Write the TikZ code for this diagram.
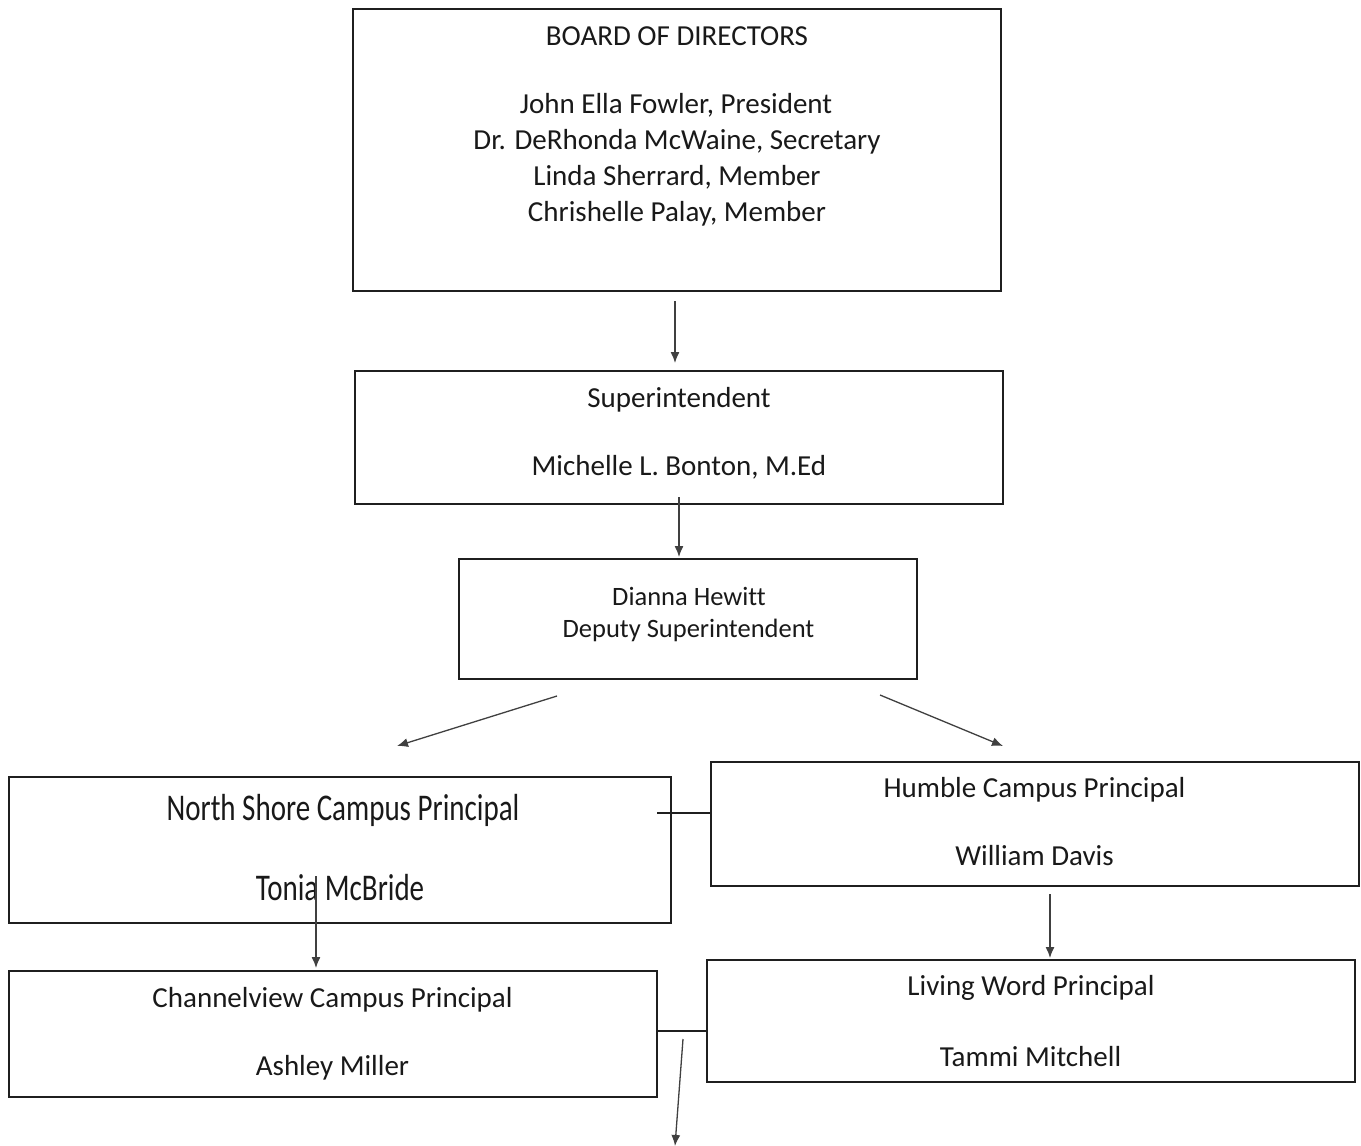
\documentclass[tikz,border=0pt]{standalone}
\usepackage{fontspec}
\setmainfont{Carlito}[Ligatures=NoCommon]
\usetikzlibrary{arrows.meta}
\begin{document}
\begin{tikzpicture}[x=1pt,y=-1pt,
  box/.style={draw=black!88,line width=1.6pt,rectangle,inner sep=0pt},
  txt/.style={anchor=base,inner sep=0pt,text=black!90,font=\fontsize{29}{35}\selectfont},
  stxt/.style={anchor=base,inner sep=0pt,text=black!90,font=\fontsize{26.5}{32}\selectfont},
  arr/.style={draw=black!75,line width=1.3pt,-{Latex[length=11pt,width=9pt]}},
  link/.style={draw=black!88,line width=1.6pt}]
\useasboundingbox (0,0) rectangle (1361,1146);
\fill[white] (0,0) rectangle (1361,1146);
% boxes
\node[box,minimum width=648pt,minimum height=282pt] (board) at (677,150) {};
\node[box,minimum width=648pt,minimum height=133pt] (sup) at (679,437.5) {};
\node[box,minimum width=458pt,minimum height=120pt] (dep) at (688,619) {};
\node[box,minimum width=662pt,minimum height=146pt] (ns) at (340,850) {};
\node[box,minimum width=648pt,minimum height=124pt] (hum) at (1035,824) {};
\node[box,minimum width=648pt,minimum height=126pt] (ch) at (333,1034) {};
\node[box,minimum width=648pt,minimum height=122pt] (lw) at (1031,1021) {};
% texts
\node[txt] (b0) at (677,45) {BOARD OF DIRECTORS};
\node[txt] (b1) at (676,113) {John Ella Fowler, President};
\node[txt] (b2) at (677,149) {Dr. DeRhonda McWaine, Secretary};
\node[txt] (b3) at (677,185) {Linda Sherrard, Member};
\node[txt] (b4) at (677,221) {Chrishelle Palay, Member};
\node[txt] (s1) at (679,407) {Superintendent};
\node[txt] (s2) at (679,475) {Michelle L. Bonton, M.Ed};
\node[stxt] (d1) at (689,605.5) {Dianna Hewitt};
\node[stxt] (d2) at (688.5,637.5) {Deputy Superintendent};
\node[txt] (n1) at (343,820) {\scalebox{1}[1.3]{North Shore Campus Principal}};
\node[txt] (n2) at (340,900) {\scalebox{1}[1.3]{Tonia McBride}};
\node[txt] (h1) at (1034.5,797) {Humble Campus Principal};
\node[txt] (h2) at (1034.5,865) {William Davis};
\node[txt] (c1) at (332.5,1007) {Channelview Campus Principal};
\node[txt] (c2) at (332.5,1075) {Ashley Miller};
\node[txt] (l1) at (1031,995) {Living Word Principal};
\node[txt] (l2) at (1030.5,1066) {Tammi Mitchell};
% connector end points
\coordinate (a1s) at (675,301); \coordinate (a1e) at (675,363);
\coordinate (a2s) at (679,497); \coordinate (a2e) at (679,557);
\coordinate (a3s) at (557,696); \coordinate (a3e) at (397,746);
\coordinate (a4s) at (880,695); \coordinate (a4e) at (1003,746);
\coordinate (a5s) at (316,876); \coordinate (a5e) at (316,968);
\coordinate (a6s) at (1050,894); \coordinate (a6e) at (1050,958);
\coordinate (a7s) at (683,1039); \coordinate (a7e) at (675,1146);
\coordinate (k1s) at (657,813); \coordinate (k2s) at (657,1031);
% connectors
\draw[arr] (a1s) -- (a1e);
\draw[arr] (a2s) -- (a2e);
\draw[arr] (a3s) -- (a3e);
\draw[arr] (a4s) -- (a4e);
\draw[arr] (a5s) -- (a5e);
\draw[arr] (a6s) -- (a6e);
\draw[arr] (a7s) -- (a7e);
\draw[link] (k1s) -- (k1s -| hum.west);
\draw[link] (k2s) -- (k2s -| lw.west);
\end{tikzpicture}
\end{document}
